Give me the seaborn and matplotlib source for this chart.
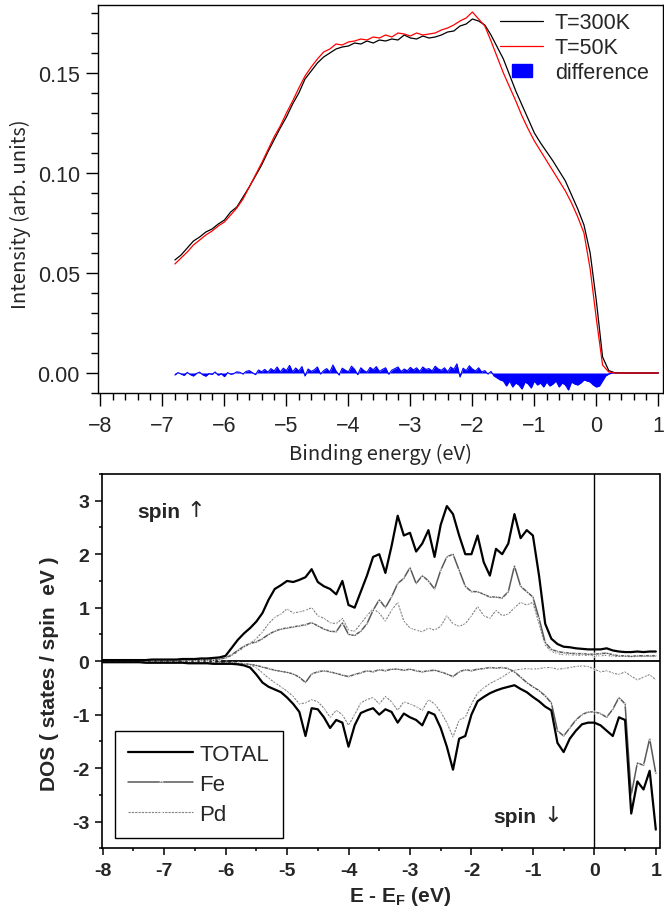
import numpy as np
import seaborn as sns
import matplotlib.pyplot as plt
import matplotlib.patches as mpatches
from matplotlib.legend_handler import HandlerPatch
from matplotlib.ticker import MultipleLocator

sns.set_style("ticks")
plt.rcParams["font.family"] = ["Liberation Sans", "DejaVu Sans"]
plt.rcParams["mathtext.fontset"] = "custom"
plt.rcParams["mathtext.bf"] = "Liberation Sans:bold"
plt.rcParams["mathtext.rm"] = "Liberation Sans"

# --- top panel: photoemission spectra (sampling grid 0.1 eV)
pes_energy = np.round(np.arange(-6.8, 1.001, 0.1), 2)
t300 = [0.0565, 0.0590, 0.0625, 0.0660, 0.0680, 0.0705, 0.0720, 0.0745, 0.0765, 0.0805,
        0.0830, 0.0880, 0.0930, 0.0985, 0.1040, 0.1105, 0.1165, 0.1225, 0.1280, 0.1345,
        0.1400, 0.1470, 0.1510, 0.1550, 0.1580, 0.1600, 0.1620, 0.1630, 0.1635, 0.1650,
        0.1645, 0.1660, 0.1650, 0.1665, 0.1660, 0.1670, 0.1665, 0.1690, 0.1675, 0.1670,
        0.1685, 0.1675, 0.1680, 0.1690, 0.1705, 0.1710, 0.1735, 0.1745, 0.1770, 0.1760,
        0.1740, 0.1690, 0.1630, 0.1570, 0.1490, 0.1410, 0.1340, 0.1270, 0.1200, 0.1150,
        0.1105, 0.1060, 0.1010, 0.0960, 0.0890, 0.0820, 0.0740, 0.0600, 0.0360, 0.0080,
        0.0012, 0.0001, 0.0, 0.0, 0.0, 0.0, 0.0, 0.0, 0.0]
t50 = [0.0545, 0.0575, 0.0605, 0.0640, 0.0665, 0.0690, 0.0710, 0.0735, 0.0755, 0.0790,
       0.0825, 0.0870, 0.0930, 0.0990, 0.1050, 0.1115, 0.1180, 0.1235, 0.1300, 0.1360,
       0.1425, 0.1485, 0.1530, 0.1570, 0.1605, 0.1620, 0.1645, 0.1640, 0.1655, 0.1660,
       0.1670, 0.1665, 0.1680, 0.1675, 0.1690, 0.1680, 0.1700, 0.1695, 0.1685, 0.1700,
       0.1690, 0.1695, 0.1700, 0.1715, 0.1725, 0.1740, 0.1760, 0.1775, 0.1805, 0.1770,
       0.1735, 0.1660, 0.1580, 0.1500, 0.1430, 0.1360, 0.1285, 0.1220, 0.1160, 0.1110,
       0.1060, 0.1010, 0.0960, 0.0910, 0.0850, 0.0780, 0.0700, 0.0520, 0.0270, 0.0040,
       0.0005, 0.0, 0.0, 0.0, 0.0, 0.0, 0.0, 0.0, 0.0]

# difference curve, 0.05 eV grid, in units of 1e-3
diff_energy = np.round(np.arange(-6.8, 1.001, 0.05), 2)
diff_milli = [-1.0, 0.2, -0.5, -1.2, 0.3, -0.8, -1.5, -0.2, 0.4, -0.9, -1.6, -0.3, -0.7, 0.5, -1.1,
              -0.4, -1.8, 0.2, -0.6, -0.3, 0.6,
              0.3, -0.5, 0.8, 1.2, 0.2, -0.8, 1.5, 0.6, 1.8, 0.4, 2.2, 1.0, 3.0, 0.5, 2.4, 1.2,
              3.8, 0.6, 2.5, 1.0, 3.2, -1.5, 2.0, 0.8, 1.6, 3.0, -0.5, 1.2, 2.2, 0.5, 4.0, 1.0,
              -1.0, 2.4, 1.4, 0.6, 3.4, 1.8, -0.8, 2.6, 1.2, 0.4, 2.8, 1.6, 3.2, 0.8, 1.8, 2.6,
              -0.6, 1.4, 2.2, 3.0, 0.7, 2.0, 1.1, 2.8,
              1.5, 2.6, 0.8, 3.0, 1.8, 2.2, 1.0, 3.4, 2.0, 1.4, 2.6, 0.6, 3.0, 1.8, 4.6, -2.0,
              2.4, 1.2, 3.6, 2.0, 1.0, 2.6, 0.5, 1.2,
              -0.5, 0.8, -1.5, -2.5, -3.5, -4.0,
              -6.5, -4.0, -7.0, -5.0, -6.0, -8.0, -4.5, -5.5, -7.5, -4.0, -6.0, -5.0, -7.0, -4.5,
              -6.5, -5.5, -4.0, -7.0, -5.0, -6.0, -8.5, -4.5, -5.5, -6.0,
              -5.0, -3.5, -4.0, -4.5, -6.0, -7.0, -6.5, -4.0, -1.5,
              -0.5, -0.1, 0.0, 0.0, 0.0, 0.0, 0.0, 0.0, 0.0, 0.0, 0.0, 0.0, 0.0, 0.0, 0.0, 0.0, 0.0]
diff = np.array(diff_milli) / 1000.0

pes_xticks = [-8, -7, -6, -5, -4, -3, -2, -1, 0, 1]
pes_xticklabels = ["\u22128", "\u22127", "\u22126", "\u22125", "\u22124", "\u22123", "\u22122", "\u22121", "0", "1"]
pes_yticks = [0.0, 0.05, 0.10, 0.15]
pes_yticklabels = ["0.00", "0.05", "0.10", "0.15"]

# --- bottom panel: calculated DOS (0.1 eV grid)
dos_energy = np.round(np.arange(-8.0, 1.001, 0.1), 2)
total_up = [0.02, 0.02, 0.02, 0.02, 0.02, 0.02, 0.02, 0.02, 0.03, 0.03,
            0.03, 0.03, 0.03, 0.04, 0.04, 0.04, 0.05, 0.05, 0.06, 0.07,
            0.10, 0.25, 0.40, 0.52, 0.62, 0.74, 0.90, 1.15, 1.35, 1.42,
            1.50, 1.48, 1.52, 1.57, 1.72, 1.48, 1.40, 1.35, 1.25, 1.50,
            1.05, 1.00, 1.30, 1.60, 1.95, 2.00, 1.65, 2.15, 2.72, 2.35,
            2.40, 2.05, 2.20, 2.45, 1.95, 2.55, 2.90, 2.75, 2.35, 2.00,
            2.00, 2.35, 1.85, 1.60, 2.10, 2.00, 2.20, 2.75, 2.30, 2.45,
            2.35, 1.60, 0.70, 0.42, 0.32, 0.27, 0.26, 0.24, 0.23, 0.22,
            0.22, 0.22, 0.24, 0.20, 0.18, 0.17, 0.17, 0.18, 0.17, 0.18,
            0.18]
fe_up = [0.01, 0.01, 0.01, 0.01, 0.01, 0.01, 0.01, 0.01, 0.02, 0.02,
         0.02, 0.02, 0.02, 0.02, 0.02, 0.03, 0.03, 0.03, 0.03, 0.04,
         0.06, 0.12, 0.20, 0.28, 0.33, 0.36, 0.42, 0.50, 0.56, 0.60,
         0.62, 0.64, 0.66, 0.68, 0.72, 0.66, 0.60, 0.56, 0.55, 0.72,
         0.50, 0.48, 0.56, 0.70, 0.95, 1.15, 1.00, 1.20, 1.45, 1.55,
         1.75, 1.45, 1.60, 1.50, 1.35, 1.70, 1.95, 2.00, 1.70, 1.40,
         1.30, 1.30, 1.25, 1.20, 1.20, 1.18, 1.30, 1.78, 1.40, 1.30,
         1.20, 0.80, 0.35, 0.22, 0.18, 0.16, 0.15, 0.14, 0.14, 0.13,
         0.13, 0.14, 0.15, 0.12, 0.10, 0.10, 0.09, 0.10, 0.10, 0.10,
         0.10]
pd_up = [0.01, 0.01, 0.01, 0.01, 0.01, 0.01, 0.01, 0.01, 0.01, 0.02,
         0.02, 0.02, 0.02, 0.02, 0.02, 0.02, 0.03, 0.03, 0.03, 0.04,
         0.06, 0.10, 0.18, 0.26, 0.33, 0.42, 0.55, 0.70, 0.82, 0.88,
         0.98, 0.90, 0.92, 0.95, 1.00, 0.85, 0.80, 0.72, 0.70, 0.80,
         0.58, 0.56, 0.70, 0.85, 0.98, 0.90, 0.75, 0.95, 1.10, 0.75,
         0.62, 0.58, 0.55, 0.62, 0.58, 0.65, 0.85, 0.70, 0.65, 0.70,
         0.85, 1.02, 0.85, 0.80, 0.95, 0.85, 0.88, 1.00, 1.10, 1.05,
         1.10, 0.70, 0.30, 0.18, 0.14, 0.12, 0.12, 0.11, 0.11, 0.11,
         0.10, 0.10, 0.11, 0.09, 0.09, 0.09, 0.08, 0.09, 0.09, 0.09,
         0.09]
total_dn = [-0.02, -0.02, -0.02, -0.02, -0.02, -0.02, -0.02, -0.03, -0.03, -0.03,
            -0.03, -0.03, -0.03, -0.03, -0.04, -0.04, -0.04, -0.04, -0.05, -0.05,
            -0.05, -0.05, -0.06, -0.08, -0.12, -0.25, -0.40, -0.48, -0.53, -0.58,
            -0.68, -0.80, -0.95, -1.40, -0.88, -0.90, -1.05, -1.25, -1.10, -1.15,
            -1.60, -1.20, -0.97, -0.92, -0.88, -1.00, -0.90, -0.95, -1.15, -0.98,
            -1.05, -1.10, -1.20, -0.95, -1.00, -1.25, -1.60, -2.03, -1.45, -1.40,
            -1.00, -0.75, -0.67, -0.60, -0.55, -0.51, -0.48, -0.45, -0.52, -0.58,
            -0.67, -0.75, -0.85, -0.92, -1.53, -1.70, -1.45, -1.30, -1.18, -1.15,
            -1.15, -1.20, -1.30, -1.40, -1.05, -1.10, -2.85, -2.25, -2.40, -2.05,
            -3.15]
fe_dn = [-0.01, -0.01, -0.01, -0.01, -0.01, -0.01, -0.01, -0.01, -0.01, -0.01,
         -0.01, -0.01, -0.01, -0.02, -0.02, -0.02, -0.02, -0.02, -0.03, -0.03,
         -0.03, -0.03, -0.04, -0.05, -0.06, -0.08, -0.11, -0.14, -0.17, -0.19,
         -0.21, -0.24, -0.30, -0.40, -0.24, -0.20, -0.18, -0.20, -0.23, -0.26,
         -0.29, -0.25, -0.22, -0.18, -0.20, -0.16, -0.18, -0.15, -0.15, -0.17,
         -0.15, -0.18, -0.20, -0.18, -0.17, -0.20, -0.24, -0.29, -0.20, -0.16,
         -0.18, -0.15, -0.14, -0.12, -0.13, -0.12, -0.14, -0.20, -0.30, -0.40,
         -0.48, -0.55, -0.65, -0.78, -1.30, -1.40, -1.25, -1.10, -1.00, -0.95,
         -0.95, -0.98, -1.05, -0.90, -0.68, -0.80, -2.50, -1.90, -1.95, -1.45,
         -2.10]
pd_dn = [-0.01, -0.01, -0.01, -0.01, -0.01, -0.01, -0.01, -0.01, -0.01, -0.01,
         -0.01, -0.01, -0.02, -0.02, -0.02, -0.02, -0.02, -0.03, -0.03, -0.03,
         -0.03, -0.03, -0.04, -0.05, -0.07, -0.12, -0.22, -0.32, -0.40, -0.48,
         -0.56, -0.66, -0.80, -0.78, -0.72, -0.76, -0.88, -1.05, -0.92, -1.00,
         -1.20, -1.00, -0.78, -0.72, -0.68, -0.80, -0.66, -0.76, -0.92, -0.76,
         -0.80, -0.85, -0.92, -0.72, -0.80, -0.95, -1.15, -1.42, -1.10, -1.05,
         -0.80, -0.60, -0.50, -0.42, -0.36, -0.30, -0.22, -0.17, -0.15, -0.14,
         -0.15, -0.14, -0.12, -0.12, -0.15, -0.14, -0.12, -0.10, -0.09, -0.10,
         -0.15, -0.20, -0.18, -0.22, -0.25, -0.20, -0.28, -0.35, -0.30, -0.25,
         -0.35]

dos_xticks = [-8, -7, -6, -5, -4, -3, -2, -1, 0, 1]
dos_xticklabels = ["-8", "-7", "-6", "-5", "-4", "-3", "-2", "-1", "0", "1"]
dos_yticks = [-3, -2, -1, 0, 1, 2, 3]
dos_yticklabels = ["-3", "-2", "-1", "0", "1", "2", "3"]


def small_box(legend, orig_handle, xdescent, ydescent, width, height, fontsize):
    return mpatches.Rectangle((-xdescent + width * 0.27, -ydescent + height * 0.05),
                              width * 0.47, height * 0.9)


fig = plt.figure(figsize=(6.64, 9.2), dpi=100)
ax1 = fig.add_axes([98 / 664, 1 - 394 / 920, 565 / 664, 388 / 920])
ax2 = fig.add_axes([101.7 / 664, 1 - 849.3 / 920, 557.8 / 664, 374.3 / 920])

# ---------- top panel
ax1.fill_between(diff_energy, diff, 0, color="#0000ff", lw=0)
sns.lineplot(x=diff_energy, y=diff, color="#0000ff", lw=0.8, estimator=None, ax=ax1)
sns.lineplot(x=pes_energy, y=t300, color="black", lw=0.9, estimator=None, ax=ax1, label="T=300K")
sns.lineplot(x=pes_energy, y=t50, color="#ff0000", lw=0.9, estimator=None, ax=ax1, label="T=50K")

ax1.set_xlim(-8.04, 1.075)
ax1.set_ylim(-0.010, 0.184)
ax1.set_xticks(pes_xticks)
ax1.set_xticklabels(pes_xticklabels)
ax1.set_yticks(pes_yticks)
ax1.set_yticklabels(pes_yticklabels)
ax1.xaxis.set_minor_locator(MultipleLocator(0.2))
ax1.yaxis.set_minor_locator(MultipleLocator(0.01))
ax1.tick_params(which="major", direction="out", length=9, width=1, labelsize=15.5, color="black")
ax1.tick_params(which="minor", direction="out", length=5, width=1, color="black")
ax1.tick_params(axis="x", which="major", pad=7)
ax1.tick_params(axis="y", which="major", pad=4)
for sp in ax1.spines.values():
    sp.set_visible(True)
    sp.set_linewidth(1.0)
    sp.set_color("black")

lab_font = ["Noto Sans CJK JP", "DejaVu Sans"]
ax1.set_xlabel("Binding energy (eV)", fontsize=14.5, family=lab_font, va="center")
ax1.xaxis.set_label_coords(0.5, -0.157)
ax1.set_ylabel("Intensity (arb. units)", fontsize=14.5, family=lab_font, va="center")
ax1.yaxis.set_label_coords(-0.138, 0.464)

h, l = ax1.get_legend_handles_labels()
diff_patch = mpatches.Patch(color="#0000ff", label="difference")
ax1.legend(h + [diff_patch], l + ["difference"], loc="upper left", bbox_to_anchor=(0.70, 0.998),
           frameon=False, fontsize=15.5, handlelength=2.0, handletextpad=0.55,
           labelspacing=0.18, borderpad=0.3, borderaxespad=0,
           handler_map={diff_patch: HandlerPatch(patch_func=small_box)})

# ---------- bottom panel
ax2.axhline(0, color="black", lw=1.3, zorder=1)
ax2.axvline(0, color="black", lw=1.0, zorder=1)
pd_style = dict(color="0.5", lw=0.8, ls=(0, (2, 1)), marker="o", markersize=1.4,
                markeredgewidth=0.4, markerfacecolor="none", estimator=None, ax=ax2)
fe_style = dict(color="0.35", lw=1.1, marker="o", markersize=2.2,
                markeredgewidth=0.5, markerfacecolor="none", estimator=None, ax=ax2)
sns.lineplot(x=dos_energy, y=pd_up, label="Pd", **pd_style)
sns.lineplot(x=dos_energy, y=pd_dn, **pd_style)
sns.lineplot(x=dos_energy, y=fe_up, label="Fe", **fe_style)
sns.lineplot(x=dos_energy, y=fe_dn, **fe_style)
sns.lineplot(x=dos_energy, y=total_up, color="black", lw=1.6, estimator=None, ax=ax2, label="TOTAL")
sns.lineplot(x=dos_energy, y=total_dn, color="black", lw=1.6, estimator=None, ax=ax2)

ax2.set_xlim(-8.016, 1.06)
ax2.set_ylim(-3.5, 3.5)
ax2.set_xticks(dos_xticks)
ax2.set_xticklabels(dos_xticklabels, fontweight="bold")
ax2.set_yticks(dos_yticks)
ax2.set_yticklabels(dos_yticklabels, fontweight="bold")
ax2.xaxis.set_minor_locator(MultipleLocator(0.5))
ax2.yaxis.set_minor_locator(MultipleLocator(0.5))
ax2.tick_params(which="major", direction="out", length=5, width=1.1, labelsize=14, color="black")
ax2.tick_params(which="minor", direction="out", length=2.5, width=1.1, color="black")
ax2.tick_params(axis="x", which="major", pad=5)
ax2.tick_params(axis="y", which="major", pad=4)
for sp in ax2.spines.values():
    sp.set_visible(True)
    sp.set_linewidth(1.2)
    sp.set_color("black")

ax2.set_xlabel(r"E - E$_\mathbf{F}$ (eV)", fontsize=15, fontweight="bold", va="center")
ax2.xaxis.set_label_coords(0.535, -0.127)
ax2.set_ylabel("DOS ( states / spin  eV )", fontsize=15, fontweight="bold", va="center")
ax2.yaxis.set_label_coords(-0.093, 0.468)

ax2.text(0.063, 0.901, "spin", transform=ax2.transAxes, fontsize=15, fontweight="bold",
         ha="left", va="center")
ax2.annotate("\u2191", xy=(0.063, 0.901), xycoords="axes fraction", xytext=(36, 1),
             textcoords="offset points", fontsize=16, family="DejaVu Sans", ha="left", va="center")
ax2.text(0.7015, 0.086, "spin", transform=ax2.transAxes, fontsize=15, fontweight="bold",
         ha="left", va="center")
ax2.annotate("\u2193", xy=(0.7015, 0.086), xycoords="axes fraction", xytext=(36, 1),
             textcoords="offset points", fontsize=16, family="DejaVu Sans", ha="left", va="center")

h2, l2 = ax2.get_legend_handles_labels()
order = [l2.index("TOTAL"), l2.index("Fe"), l2.index("Pd")]
leg = ax2.legend([h2[i] for i in order], [l2[i] for i in order], loc="lower left",
                 bbox_to_anchor=(0.024, 0.0275), frameon=True, fancybox=False, edgecolor="black",
                 framealpha=1, fontsize=16, handlelength=2.9, handletextpad=0.3,
                 labelspacing=0.4, borderpad=0.6, borderaxespad=0, numpoints=1)
leg.get_frame().set_linewidth(1.0)

fig.savefig("out.png", dpi=100)
